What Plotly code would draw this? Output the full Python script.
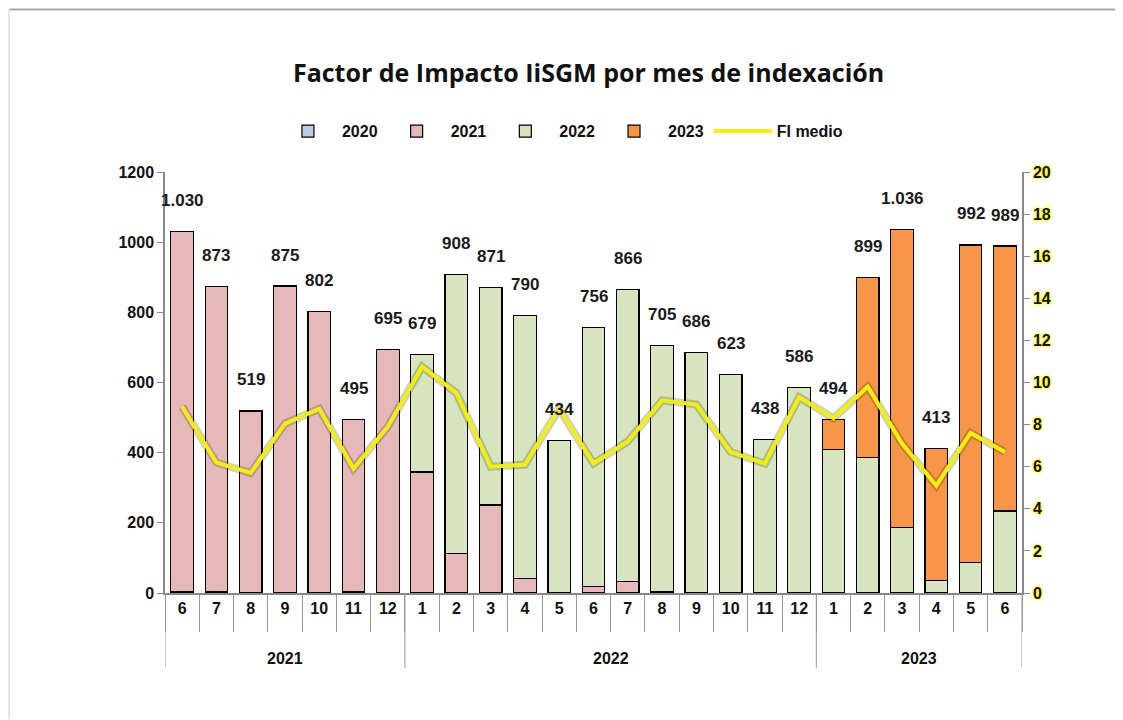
import plotly.graph_objects as go

years = ["2021", "2022", "2023"]
year_counts = [7, 12, 6]
months = ["6", "7", "8", "9", "10", "11", "12",
          "1", "2", "3", "4", "5", "6", "7", "8", "9", "10", "11", "12",
          "1", "2", "3", "4", "5", "6"]

v2020 = [3, 3, 0, 0, 0, 3, 0,
         0, 0, 0, 0, 0, 0, 0, 0, 0, 0, 0, 0,
         0, 0, 0, 0, 0, 0]
v2021 = [1027, 870, 519, 875, 802, 492, 695,
         345, 113, 251, 42, 0, 18, 32, 3, 0, 0, 0, 0,
         0, 0, 0, 0, 0, 0]
v2022 = [0, 0, 0, 0, 0, 0, 0,
         334, 795, 620, 748, 434, 738, 834, 702, 686, 623, 438, 586,
         409, 387, 186, 35, 86, 234]
v2023 = [0] * 19 + [85, 512, 850, 378, 906, 755]
totals = [1030, 873, 519, 875, 802, 495, 695,
          679, 908, 871, 790, 434, 756, 866, 705, 686, 623, 438, 586,
          494, 899, 1036, 413, 992, 989]
fi_medio = [8.85, 6.2, 5.7, 8.05, 8.75, 5.9, 7.9,
            10.75, 9.5, 6.0, 6.1, 8.75, 6.15, 7.2, 9.15, 8.95, 6.7, 6.15, 9.3,
            8.3, 9.8, 7.1, 5.1, 7.6, 6.7]

series = [("2020", v2020, "#B9CDE5"), ("2021", v2021, "#E6B9B8"),
          ("2022", v2022, "#D7E4BD"), ("2023", v2023, "#F79646")]

x = list(range(len(months)))
FONT = "Liberation Sans Narrow, Arial Narrow, Liberation Sans, Arial"

fig = go.Figure()
for name, vals, col in series:
    fig.add_trace(go.Bar(
        x=x, y=[v if v else None for v in vals], name=name,
        marker=dict(color=col, line=dict(color="#000000", width=1.2)),
        width=0.66))

# soft shadow of the line
fig.add_trace(go.Scatter(x=x, y=fi_medio, yaxis="y2", mode="lines", showlegend=False,
                         line=dict(color="rgba(30,30,30,0.22)", width=8), hoverinfo="skip"))
fig.add_trace(go.Scatter(x=x, y=fi_medio, yaxis="y2", mode="lines", name="FI medio",
                         line=dict(color="#F2F200", width=4)))

def fmt(v):
    return f"{v:,}".replace(",", ".")

annotations = []
for i, t in zip(x, totals):
    annotations.append(dict(x=i, y=t, xref="x", yref="y", text=fmt(t), showarrow=False,
                            yshift=31, font=dict(family=FONT, size=17, color="#1a1a1a", weight="bold")))

# year group labels and dividers
shapes = []
start = -0.5
bounds = [start]
for yr, n in zip(years, year_counts):
    end = start + n
    annotations.append(dict(x=(start + end) / 2, y=-0.155, xref="x", yref="paper", text=yr,
                            showarrow=False, yanchor="middle",
                            font=dict(family=FONT, size=16, color="#111111", weight="bold")))
    bounds.append(end)
    start = end
for b in bounds:
    shapes.append(dict(type="line", xref="x", yref="paper", x0=b, x1=b, y0=0, y1=-0.178,
                       line=dict(color="#999999", width=1)))

shapes += [
    dict(type="line", xref="paper", yref="paper", x0=-0.182, x1=1.118, y0=1.386, y1=1.386,
         line=dict(color="#a8a8a8", width=2)),
    dict(type="line", xref="paper", yref="paper", x0=-0.182, x1=-0.182, y0=1.386, y1=-0.30,
         line=dict(color="#dddddd", width=1.5)),
]

fig.update_layout(
    barmode="stack",
    width=1123, height=720,
    margin=dict(l=157, r=109, t=164, b=135),
    paper_bgcolor="white", plot_bgcolor="white",
    title=dict(text="<b>Factor de Impacto IiSGM por mes de indexación</b>", x=0.517, xanchor="center",
               y=0.91, yanchor="middle",
               font=dict(family="Open Sans, Lato, sans-serif", size=25, color="#111111")),
    legend=dict(orientation="h", x=0.462, xanchor="center", y=1.097, yanchor="middle",
                font=dict(family=FONT, size=16, color="#111111", weight="bold"),
                traceorder="normal", itemwidth=58),
    showlegend=True,
    annotations=annotations,
    shapes=shapes,
    xaxis=dict(range=[-0.5, len(months) - 0.5], tickmode="array", tickvals=x, ticktext=months,
               showline=True, linecolor="#888888", linewidth=1.5, ticks="",
               minor=dict(tickmode="linear", tick0=-0.5, dtick=1, ticks="outside", ticklen=37,
                          tickcolor="#999999", tickwidth=1, showgrid=False),
               tickfont=dict(family=FONT, size=16, color="#111111", weight="bold"),
               showgrid=False, zeroline=False),
    yaxis=dict(range=[0, 1200], dtick=200, showline=True, linecolor="#888888", linewidth=1.5,
               ticks="outside", ticklen=6, tickcolor="#888888", showgrid=False, zeroline=False,
               tickfont=dict(family=FONT, size=16, color="#111111", weight="bold")),
    yaxis2=dict(range=[0, 20], dtick=2, overlaying="y", side="right", showline=True,
                linecolor="#888888", linewidth=1.5, ticks="outside", ticklen=6, tickcolor="#888888",
                showgrid=False, zeroline=False,
                tickfont=dict(family=FONT, size=16, color="#111111", weight="bold",
                              shadow="0px 0px 3px #ffff00, 0px 0px 3px #ffff00, 0px 0px 2px #ffff00")),
)

fig.write_html("out.html")
